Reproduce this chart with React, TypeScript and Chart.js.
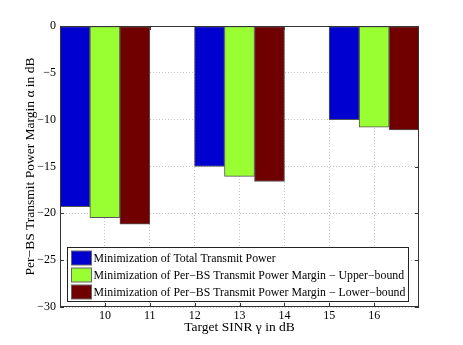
import React, { useEffect, useRef } from 'react';
import { Chart, registerables } from 'chart.js';

Chart.register(...registerables);

const targetSinr = [10, 13, 16];
const totalPower = [-19.3, -15.0, -10.0];
const upperBound = [-20.45, -16.05, -10.8];
const lowerBound = [-21.15, -16.6, -11.1];
const xTicks = [10, 11, 12, 13, 14, 15, 16];
const seriesLabels = [
  'Minimization of Total Transmit Power',
  'Minimization of Per\u2212BS Transmit Power Margin \u2212 Upper\u2212bound',
  'Minimization of Per\u2212BS Transmit Power Margin \u2212 Lower\u2212bound',
];
const seriesColors = ['#0000CF', '#99FF33', '#700000'];
const xTitle = 'Target SINR \u03B3 in dB';
const yTitle = 'Per\u2212BS Transmit Power Margin \u03B1 in dB';

const FONT = '"Liberation Serif", "Times New Roman", serif';

const framePlugin = {
  id: 'matlabFrame',
  beforeDatasetsDraw(chart: any) {
    const { ctx, chartArea: a, scales } = chart;
    ctx.save();
    ctx.strokeStyle = '#333';
    ctx.lineWidth = 1;
    ctx.beginPath();
    scales.x.ticks.forEach((t: any) => {
      const px = Math.round(scales.x.getPixelForValue(t.value)) + 0.5;
      ctx.moveTo(px, a.bottom);
      ctx.lineTo(px, a.bottom - 4);
      ctx.moveTo(px, a.top);
      ctx.lineTo(px, a.top + 4);
    });
    scales.y.ticks.forEach((t: any) => {
      const py = Math.round(scales.y.getPixelForValue(t.value)) + 0.5;
      ctx.moveTo(a.left, py);
      ctx.lineTo(a.left + 4, py);
      ctx.moveTo(a.right, py);
      ctx.lineTo(a.right - 4, py);
    });
    ctx.stroke();
    ctx.restore();
  },
  afterDatasetsDraw(chart: any) {
    const { ctx, chartArea: a } = chart;
    ctx.save();
    // frame
    ctx.strokeStyle = '#333';
    ctx.lineWidth = 1;
    const l = Math.round(a.left) + 0.5;
    const t = Math.round(a.top) + 0.5;
    const r = Math.round(a.right) - 0.5;
    const b = Math.round(a.bottom) - 0.5;
    ctx.strokeRect(l, t, r - l, b - t);

    // legend
    ctx.font = '11.8px ' + FONT;
    const datasets = chart.data.datasets;
    let maxW = 0;
    datasets.forEach((d: any) => {
      maxW = Math.max(maxW, ctx.measureText(d.label).width);
    });
    const rowH = 17;
    const boxLeft = Math.round(a.left) + 7.5;
    const boxBottom = Math.round(a.bottom) - 5.5;
    const boxH = datasets.length * rowH + 3;
    const boxTop = boxBottom - boxH;
    const textX = boxLeft + 26;
    const boxRight = Math.round(textX + maxW + 3) + 0.5;
    ctx.fillStyle = '#fff';
    ctx.fillRect(boxLeft, boxTop, boxRight - boxLeft, boxH);
    ctx.strokeStyle = '#222';
    ctx.strokeRect(boxLeft, boxTop, boxRight - boxLeft, boxH);
    datasets.forEach((d: any, i: number) => {
      const cy = boxTop + 10.5 + i * rowH;
      ctx.fillStyle = d.backgroundColor;
      ctx.fillRect(boxLeft + 4, cy - 7, 20, 14);
      ctx.strokeStyle = '#666';
      ctx.strokeRect(boxLeft + 4, cy - 7, 20, 14);
      ctx.fillStyle = '#000';
      ctx.textBaseline = 'middle';
      ctx.textAlign = 'left';
      ctx.fillText(d.label, textX, cy + 0.5);
    });
    ctx.restore();
  },
};

export default function App() {
  const ref = useRef<HTMLCanvasElement | null>(null);

  useEffect(() => {
    document.body.style.margin = '0';
    const canvas = ref.current!;
    const seriesValues = [totalPower, upperBound, lowerBound];
    const chart = new Chart(canvas, {
      type: 'bar',
      data: {
        datasets: seriesValues.map((vals, k) => ({
          label: seriesLabels[k],
          data: targetSinr.map((x, i) => ({ x, y: vals[i] })),
          backgroundColor: seriesColors[k],
          borderColor: '#555',
          borderWidth: 1,
          borderSkipped: false,
          barThickness: 30,
        })),
      },
      options: {
        animation: false,
        responsive: false,
        devicePixelRatio: 1,
        layout: { padding: { left: 0, right: 44, top: 26, bottom: 0 } },
        plugins: {
          legend: { display: false },
          tooltip: { enabled: false },
        },
        scales: {
          x: {
            type: 'linear',
            min: 9,
            max: 17,
            offset: false,
            afterBuildTicks: (s: any) => {
              s.ticks = xTicks.map((v) => ({ value: v }));
            },
            afterFit: (s: any) => {
              s.height = 38;
            },
            grid: { offset: false, color: '#c4c4c4', drawTicks: false, lineWidth: 1 },
            border: { display: false, dash: [1, 2] },
            ticks: {
              color: '#000',
              font: { family: FONT, size: 12 },
              padding: 2,
              maxRotation: 0,
              autoSkip: false,
              callback: (v: any) => String(v),
            },
            title: {
              display: true,
              text: xTitle,
              color: '#000',
              font: { family: FONT, size: 13.5 },
              padding: { top: 0, bottom: 9 },
            },
          },
          y: {
            type: 'linear',
            min: -30,
            max: 0,
            afterFit: (s: any) => {
              s.width = 60;
            },
            grid: { color: '#c4c4c4', drawTicks: false, lineWidth: 1 },
            border: { display: false, dash: [1, 2] },
            ticks: {
              stepSize: 5,
              color: '#000',
              font: { family: FONT, size: 12 },
              padding: 4,
              callback: (v: any) => (v < 0 ? '\u2212' + Math.abs(v) : String(v)),
            },
            title: {
              display: true,
              text: yTitle,
              color: '#000',
              font: { family: FONT, size: 13.5 },
              padding: { top: 22, bottom: 0 },
            },
          },
        },
      } as any,
      plugins: [framePlugin],
    });
    return () => chart.destroy();
  }, []);

  return (
    <div style={{ width: 463, height: 345 }}>
      <canvas ref={ref} width={463} height={345} style={{ display: 'block' }} />
    </div>
  );
}
